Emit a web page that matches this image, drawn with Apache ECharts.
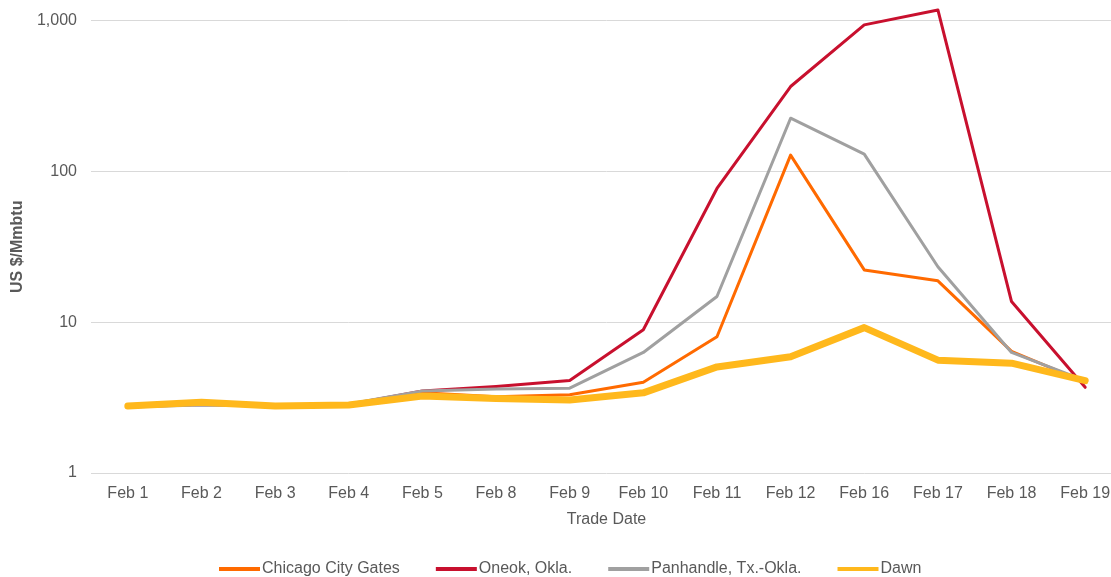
<!DOCTYPE html>
<html>
<head>
<meta charset="utf-8">
<script src="https://cdn.jsdelivr.net/npm/echarts@6/dist/echarts.min.js"></script>
<style>
  html, body { margin: 0; padding: 0; background: #fff; overflow: hidden; }
  #chart { width: 1122px; height: 577px; }
</style>
</head>
<body>
<div id="chart"></div>
<script>
var dates = ['Feb 1', 'Feb 2', 'Feb 3', 'Feb 4', 'Feb 5', 'Feb 8', 'Feb 9', 'Feb 10', 'Feb 11', 'Feb 12', 'Feb 16', 'Feb 17', 'Feb 18', 'Feb 19'];
var chicago = [2.78, 2.9, 2.78, 2.85, 3.4, 3.2, 3.3, 4.0, 8.0, 128, 22.2, 18.8, 6.4, 4.0];
var oneok = [2.75, 2.85, 2.78, 2.85, 3.5, 3.75, 4.1, 8.9, 77, 365, 935, 1175, 13.7, 3.7];
var panhandle = [2.74, 2.82, 2.78, 2.87, 3.5, 3.6, 3.65, 6.3, 14.8, 225, 130, 23.3, 6.3, 4.1];
var dawn = [2.78, 2.95, 2.78, 2.82, 3.24, 3.12, 3.05, 3.4, 5.05, 5.9, 9.2, 5.6, 5.35, 4.1];
var yTicks = [1, 10, 100, 1000];

window.onload = function () {
    showChart();
};

function showChart() {
    // div is a bit wider than the window so the last category gets clipped like the original
    var myChart = echarts.init(document.getElementById('chart'));
    var textColor = '#595959';
    var font = 'Liberation Sans, Arial, sans-serif';

    function lineSeries(name, data, color, width) {
        return {
            name: name,
            type: 'line',
            data: data,
            symbol: 'none',
            clip: false,
            lineStyle: { color: color, width: width, join: 'round', cap: 'round' },
            itemStyle: { color: color }
        };
    }

    var option = {
        animation: false,
        grid: { left: 91, right: 0, top: 20.5, bottom: 104 },
        legend: {
            top: 556,
            left: 214,
            itemGap: 36,
            itemWidth: 41,
            itemHeight: 4,
            icon: 'rect',
            textStyle: { color: textColor, fontSize: 16, fontFamily: font, padding: [0, 0, 0, -3] },
            data: ['Chicago City Gates', 'Oneok, Okla.', 'Panhandle, Tx.-Okla.', 'Dawn']
        },
        xAxis: {
            type: 'category',
            data: dates,
            boundaryGap: true,
            name: 'Trade Date',
            nameLocation: 'middle',
            nameGap: 39,
            nameTextStyle: { color: textColor, fontSize: 16, fontFamily: font },
            axisLine: { show: false },
            axisTick: { show: false },
            axisLabel: { color: textColor, fontSize: 16, fontFamily: font, margin: 13, interval: 0 }
        },
        yAxis: {
            type: 'log',
            logBase: 10,
            min: 1,
            max: 1000,
            name: 'US $/Mmbtu',
            nameLocation: 'middle',
            nameGap: 64,
            nameTextStyle: { color: textColor, fontSize: 16, fontWeight: 'bold', fontFamily: font },
            axisLine: { show: false },
            axisTick: { show: false },
            splitLine: { lineStyle: { color: '#d9d9d9', width: 1 } },
            axisLabel: {
                color: textColor,
                fontSize: 16,
                fontFamily: font,
                margin: 14,
                formatter: function (v) {
                    var r = Math.round(v);
                    if (yTicks.indexOf(r) < 0) return '';
                    return r.toString().replace(/\B(?=(\d{3})+(?!\d))/g, ',');
                }
            }
        },
        series: [
            lineSeries('Chicago City Gates', chicago, '#ff6a00', 3),
            lineSeries('Oneok, Okla.', oneok, '#c8102e', 3),
            lineSeries('Panhandle, Tx.-Okla.', panhandle, '#a0a0a0', 3),
            lineSeries('Dawn', dawn, '#ffb81c', 7)
        ]
    };

    myChart.setOption(option);
}
</script>
</body>
</html>
